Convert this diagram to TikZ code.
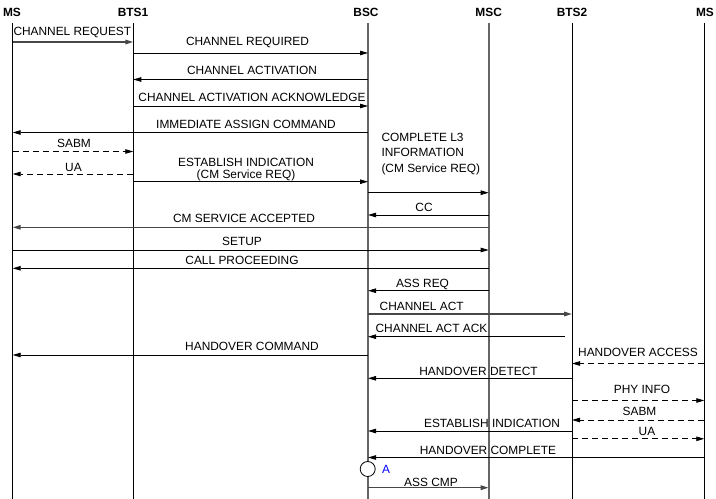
\documentclass[tikz,border=0pt]{standalone}
\usepackage{fontspec}
\setmainfont{Liberation Sans}
\usetikzlibrary{arrows.meta}
\begin{document}
\begin{tikzpicture}[x=1bp,y=-1bp,
  every node/.style={inner sep=0pt,outer sep=0pt,font=\fontsize{11.9bp}{14bp}\selectfont},
  hdr/.style={font=\fontsize{11.9bp}{14bp}\selectfont\bfseries},
  life/.style={line width=0.8bp,black},
  lifeg/.style={line width=1.7bp,black!60},
  msg/.style={line width=0.8bp,black,-{Triangle[length=8bp,width=4.5bp]}},
  msgg/.style={msg,line width=1.5bp,black!72},
  dmsg/.style={msg,dash pattern=on 6bp off 4bp},
  lbl/.style={anchor=base},
  lbll/.style={anchor=base west},
]
\useasboundingbox (0,0) rectangle (716,499);
% headers
\node[hdr] (hms)   at (12,12.5)  {MS};
\node[hdr] (hbts1) at (133,12.5) {BTS1};
\node[hdr] (hbsc)  at (366,12.5) {BSC};
\node[hdr] (hmsc)  at (488.7,12.5) {MSC};
\node[hdr] (hbts2) at (572,12.5) {BTS2};
\node[hdr] (hms2)  at (705,12.5) {MS};
% lifelines
\coordinate (ms)   at (12.7,23);
\coordinate (bts1) at (133.3,23);
\coordinate (bsc)  at (368,23);
\coordinate (msc)  at (488.7,23);
\coordinate (bts2) at (572,23);
\coordinate (ms2)  at (704.3,23);
\draw[life]  (ms)   -- (ms |- 0,499);
\draw[life]  (bts1) -- (bts1 |- 0,499);
\draw[lifeg] (bsc)  -- (bsc |- 0,499);
\draw[lifeg] (msc)  -- (msc |- 0,499);
\draw[life]  (bts2) -- (bts2 |- 0,499);
\draw[life]  (ms2)  -- (ms2 |- 0,499);
% messages
\draw[msgg] (ms |- 0,42) -- (bts1 |- 0,42);
\node[lbll] (t1) at (13.5,36) {CHANNEL REQUEST};
\draw[msg] (bts1 |- 0,53) -- (bsc |- 0,53);
\node[lbl] (t2) at (247.5,45.2) {CHANNEL REQUIRED};
\draw[msg] (bsc |- 0,79.5) -- (bts1 |- 0,79.5);
\node[lbl] (t3) at (252,74.5) {CHANNEL ACTIVATION};
\draw[msg] (bts1 |- 0,106) -- (bsc |- 0,106);
\node[lbl] (t4) at (252,102) {CHANNEL ACTIVATION ACKNOWLEDGE};
\draw[msg] (bsc |- 0,132.5) -- (ms |- 0,132.5);
\node[lbl] (t5) at (246,129) {IMMEDIATE ASSIGN COMMAND};
\draw[dmsg] (ms |- 0,151.5) -- (bts1 |- 0,151.5);
\node[lbl] (t6) at (74,148) {SABM};
\draw[dmsg] (bts1 |- 0,174) -- (ms |- 0,174);
\node[lbl] (t7) at (73.5,172) {UA};
\draw[msg] (bts1 |- 0,181.7) -- (bsc |- 0,181.7);
\node[lbl] (t8a) at (246,166.5) {ESTABLISH INDICATION};
\node[lbl] (t8b) at (246,179) {(CM Service REQ)};
\draw[msg] (bsc |- 0,192.7) -- (msc |- 0,192.7);
\node[lbll] (t9a) at (381.5,142) {COMPLETE L3};
\node[lbll] (t9b) at (381.5,157) {INFORMATION};
\node[lbll] (t9c) at (381.5,173) {(CM Service REQ)};
\draw[msg] (msc |- 0,215) -- (bsc |- 0,215);
\node[lbl] (t10) at (424,211.7) {CC};
\draw[msgg] (msc |- 0,227.3) -- (ms |- 0,227.3);
\node[lbl] (t11) at (244,223) {CM SERVICE ACCEPTED};
\draw[msg] (ms |- 0,250) -- (msc |- 0,250);
\node[lbl] (t12) at (242,246) {SETUP};
\draw[msg] (msc |- 0,268.3) -- (ms |- 0,268.3);
\node[lbl] (t13) at (242,265) {CALL PROCEEDING};
\draw[msg] (msc |- 0,290.7) -- (bsc |- 0,290.7);
\node[lbl] (t14) at (422.5,287) {ASS REQ};
\draw[msgg] (bsc |- 0,314) -- (bts2 |- 0,314);
\node[lbl] (t15) at (421.7,310) {CHANNEL ACT};
\coordinate (ackstart) at (565,336.7);
\draw[msg] (ackstart) -- (bsc |- ackstart);
\node[lbl] (t16) at (431.5,332.5) {CHANNEL ACT ACK};
\draw[msg] (bsc |- 0,355) -- (ms |- 0,355);
\node[lbl] (t17) at (252,350) {HANDOVER COMMAND};
\draw[dmsg] (ms2 |- 0,363.5) -- (bts2 |- 0,363.5);
\node[lbl] (t18) at (638,356.5) {HANDOVER ACCESS};
\draw[msg] (bts2 |- 0,378.3) -- (bsc |- 0,378.3);
\node[lbl] (t19) at (478.5,375.5) {HANDOVER DETECT};
\draw[dmsg] (bts2 |- 0,400.5) -- (ms2 |- 0,400.5);
\node[lbl] (t20) at (642,393) {PHY INFO};
\draw[dmsg] (ms2 |- 0,420) -- (bts2 |- 0,420);
\node[lbl] (t21) at (639.5,415) {SABM};
\draw[msg] (bts2 |- 0,431) -- (bsc |- 0,431);
\node[lbl] (t22) at (492,427.5) {ESTABLISH INDICATION};
\draw[dmsg] (bts2 |- 0,438.8) -- (ms2 |- 0,438.8);
\node[lbl] (t23) at (647,435.5) {UA};
\draw[msg] (ms2 |- 0,457.5) -- (bsc |- 0,457.5);
\node[lbl] (t24) at (488,454) {HANDOVER COMPLETE};
\node[circle,draw,line width=0.8bp,fill=white,minimum size=15bp] (acirc) at (367.7,469) {};
\node[lbl,text=blue] (ta) at (386,473.3) {A};
\draw[msgg] (bsc |- 0,487.7) -- (msc |- 0,487.7);
\node[lbl] (t26) at (431,486) {ASS CMP};
\end{tikzpicture}
\end{document}
